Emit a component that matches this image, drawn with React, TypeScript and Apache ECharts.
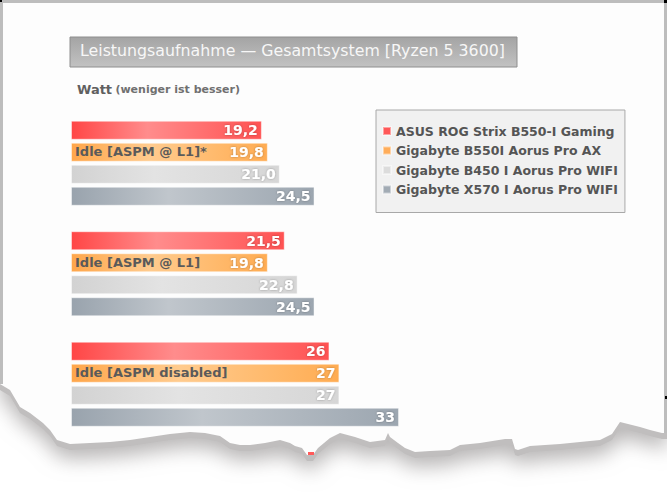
import React, { useEffect, useRef } from "react";
import * as echarts from "echarts";

const categories = ["Idle [ASPM @ L1]*", "Idle [ASPM @ L1]", "Idle [ASPM disabled]"];
const seriesNames = [
  "ASUS ROG Strix B550-I Gaming",
  "Gigabyte B550I Aorus Pro AX",
  "Gigabyte B450 I Aorus Pro WIFI",
  "Gigabyte X570 I Aorus Pro WIFI",
];
const asusValues = [19.2, 21.5, 26];
const b550iValues = [19.8, 19.8, 27];
const b450Values = [21.0, 22.8, 27];
const x570Values = [24.5, 24.5, 33];
const labelDecimals = [1, 1, 0];

const seriesData = [asusValues, b550iValues, b450Values, x570Values];
const gradients = [
  ["#ff4646", "#ff8c8c", "#ff5252"],
  ["#ffa64a", "#ffcb8e", "#ffac52"],
  ["#d2d2d2", "#e3e3e3", "#d6d6d6"],
  ["#99a3ad", "#c0c6cc", "#9ca6b0"],
];
const legendColors = ["#ff5858", "#ffad5a", "#dcdcdc", "#a2abb4"];

const FONT = "'DejaVu Sans', sans-serif";

const tornEdge: number[][] = [
  [667, 433], [662, 433], [650, 430], [640, 427], [628, 424], [620, 422], [612, 434],
  [600, 440], [580, 442], [560, 444], [545, 445], [530, 446], [518, 450], [515, 449],
  [512, 439], [505, 439], [480, 443], [460, 445], [450, 450], [430, 451], [415, 452],
  [405, 448], [398, 443], [390, 437], [388, 433], [385, 440], [370, 442], [355, 437],
  [340, 433], [330, 438], [318, 448], [313, 455], [307, 455], [302, 448], [295, 446],
  [290, 443], [280, 440], [265, 443], [250, 445], [240, 445], [230, 443], [220, 436],
  [205, 433], [190, 432], [170, 434], [150, 437], [130, 440], [110, 442], [90, 443],
  [70, 444], [57, 440], [50, 430], [43, 423], [30, 413], [20, 407], [10, 390], [0, 384],
];

export default function App() {
  const ref = useRef<HTMLDivElement>(null);
  useEffect(() => {
    if (!ref.current) return;
    const chart = echarts.init(ref.current, null, { renderer: "svg" });
    const pagePoly = [[0, 0], [667, 0], ...tornEdge];
    const shadowPoly = pagePoly.map(([x, y], i) => (i < 2 ? [x, y] : [x, y + 6]));

    const series = seriesNames.map((name, i) => ({
      name,
      type: "bar",
      data: seriesData[i],
      barWidth: 19,
      barGap: "15.8%",
      itemStyle: {
        color: new echarts.graphic.LinearGradient(0, 0, 1, 0, [
          { offset: 0, color: gradients[i][0] },
          { offset: 0.4, color: gradients[i][1] },
          { offset: 1, color: gradients[i][2] },
        ]),
        borderColor: "rgba(255,255,255,0.45)",
        borderWidth: 1,
      },
      label: {
        show: true,
        position: "insideRight",
        distance: 4,
        color: "#ffffff",
        fontSize: 14,
        fontWeight: "bold",
        fontFamily: FONT,
        textShadowColor: "rgba(0,0,0,0.3)",
        textShadowBlur: 2,
        formatter: (p: any) =>
          Number(p.value).toFixed(labelDecimals[p.dataIndex]).replace(".", ","),
      },
    }));

    chart.setOption({
      animation: false,
      backgroundColor: "#ffffff",
      title: {
        text: "Leistungsaufnahme \u2014 Gesamtsystem [Ryzen 5 3600]",
        left: 80,
        top: 42,
        padding: 0,
        textStyle: { color: "#f7f7f7", fontSize: 15.8, fontWeight: "normal", fontFamily: FONT },
      },
      legend: {
        orient: "vertical",
        left: 376,
        top: 110,
        padding: [13, 7, 15, 6],
        backgroundColor: "#f1f1f1",
        borderColor: "#a8a8a8",
        borderWidth: 1,
        itemWidth: 8,
        itemHeight: 8,
        itemGap: 3.5,
        icon: "rect",
        textStyle: { color: "#555555", fontSize: 12.5, fontWeight: "bold", fontFamily: FONT, lineHeight: 16 },
        data: seriesNames.map((n, i) => ({ name: n, itemStyle: { color: legendColors[i] } })),
      },
      grid: { left: 71, right: 99, top: 108, height: 331.5 },
      xAxis: { type: "value", min: 0, max: 50, show: false },
      yAxis: {
        type: "category",
        data: categories,
        inverse: true,
        z: 10,
        axisLine: { show: false },
        axisTick: { show: false },
        splitLine: { show: false },
        axisLabel: {
          inside: true,
          margin: 4,
          color: "#5a5a5a",
          fontSize: 13,
          fontWeight: "bold",
          fontFamily: FONT,
          lineHeight: 23,
          formatter: (v: string) => v + "\n ",
        },
      },
      series,
      graphic: [
        {
          type: "polygon",
          z: -20,
          shape: { points: shadowPoly },
          style: {
            fill: "#c0bebe",
            shadowBlur: 20,
            shadowColor: "rgba(170,168,168,0.85)",
            shadowOffsetY: 9,
          },
        },
        {
          type: "polygon",
          z: -10,
          shape: { points: pagePoly },
          style: { fill: "#fdfdfd" },
        },
        { type: "rect", z: -5, shape: { x: 0, y: 0, width: 667, height: 3 }, style: { fill: "#bdbdbd" } },
        { type: "rect", z: -5, shape: { x: 0, y: 0, width: 3, height: 384 }, style: { fill: "#bdbdbd" } },
        { type: "rect", z: -5, shape: { x: 664, y: 0, width: 3, height: 433 }, style: { fill: "#bdbdbd" } },
        { type: "rect", z: -4, shape: { x: 0, y: 0, width: 2, height: 2 }, style: { fill: "#000" } },
        { type: "rect", z: -4, shape: { x: 664, y: 0, width: 3, height: 3 }, style: { fill: "#000" } },
        { type: "rect", z: -4, shape: { x: 665, y: 396, width: 2, height: 3 }, style: { fill: "#000" } },
        { type: "rect", z: -4, shape: { x: 308, y: 452, width: 6, height: 3 }, style: { fill: "#ff5a5a" } },
        {
          type: "rect",
          z: -3,
          shape: { x: 70, y: 37, width: 447, height: 30 },
          style: {
            fill: new echarts.graphic.LinearGradient(0, 0, 0, 1, [
              { offset: 0, color: "#a4a4a4" },
              { offset: 1, color: "#c2c2c2" },
            ]),
            stroke: "#8e8e8e",
            lineWidth: 1,
          },
        },
        {
          type: "text",
          z: 5,
          x: 77,
          y: 89,
          style: {
            text: "{a|Watt} {b|(weniger ist besser)}",
            verticalAlign: "middle",
            rich: {
              a: { fontSize: 13, fontWeight: "bold", fill: "#606060", fontFamily: FONT },
              b: { fontSize: 11, fontWeight: "bold", fill: "#707070", fontFamily: FONT },
            },
          },
        },
      ],
    });
    return () => chart.dispose();
  }, []);
  return (
    <div
      ref={ref}
      style={{ position: "fixed", left: 0, top: 0, width: 667, height: 492 }}
    />
  );
}
